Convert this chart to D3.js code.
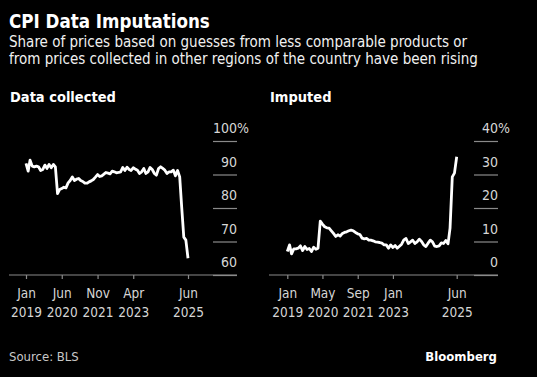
<!DOCTYPE html>
<html><head><meta charset="utf-8">
<script src="https://cdn.jsdelivr.net/npm/d3@7"></script>
<style>
html,body{margin:0;padding:0;background:#000;}
svg{display:block;}
</style></head>
<body>
<script>
// ---- data ----
const startMonth = new Date(2019, 0, 1);
const endMonth = new Date(2025, 5, 1);
const months = d3.timeMonth.range(startMonth, d3.timeMonth.offset(endMonth, 1));

const collected = [93.3, 91.0, 94.3, 92.5, 92.3, 92.5, 92.3, 91.2, 91.5, 92.8,
  91.8, 93.0, 92.0, 93.0, 92.3, 84.3, 85.5, 85.8, 86.2, 86.0,
  87.5, 88.2, 89.3, 88.2, 88.6, 88.8, 88.2, 87.9, 87.4, 87.4,
  87.8, 88.1, 88.5, 89.2, 90.0, 89.4, 89.6, 90.1, 90.6, 90.4,
  90.2, 91.0, 90.8, 90.5, 90.6, 90.8, 92.1, 91.2, 92.2, 91.5,
  91.2, 92.0, 91.6, 91.3, 90.3, 90.8, 91.8, 90.3, 90.8, 92.1,
  91.5, 90.3, 89.8, 91.8, 92.3, 91.8, 91.3, 90.3, 90.8, 90.8,
  91.3, 89.6, 91.2, 89.3, 80.5, 71.3, 70.4, 65.0];

const imputed = [7.0, 9.0, 6.3, 7.8, 7.8, 8.0, 8.7, 7.3, 8.5, 7.6,
  7.9, 7.0, 8.3, 7.7, 8.0, 16.1, 15.2, 14.4, 14.1, 14.0,
  13.2, 12.4, 11.5, 12.0, 11.6, 12.4, 12.7, 12.9, 13.2, 13.4,
  13.2, 12.7, 12.3, 12.1, 11.0, 10.8, 10.9, 10.4, 10.4, 10.2,
  9.9, 9.8, 9.7, 9.5, 9.0, 9.0, 8.0, 9.0, 8.2, 8.8,
  8.0, 8.6, 9.2, 10.5, 10.9, 9.4, 9.9, 10.4, 9.4, 9.9,
  10.7, 10.0, 9.0, 8.5, 9.5, 10.4, 9.9, 8.6, 8.5, 8.7,
  9.6, 9.4, 10.3, 9.3, 14.0, 29.3, 30.4, 35.3];

const collectedTicks = [new Date(2019,0,1), new Date(2020,5,1), new Date(2021,10,1), new Date(2023,3,1), new Date(2025,5,1)];
const imputedTicks = [new Date(2019,0,1), new Date(2020,4,1), new Date(2021,8,1), new Date(2023,0,1), new Date(2025,5,1)];
const collectedY = [60, 70, 80, 90, 100];
const imputedY = [0, 10, 20, 30, 40];

const title = "CPI Data Imputations";
const subtitle = ["Share of prices based on guesses from less comparable products or",
  "from prices collected in other regions of the country have been rising"];

// ---- layout ----
const W = 537, H = 377;
const FONT = "'DejaVu Sans Condensed', 'DejaVu Sans', sans-serif";
const svg = d3.select("body").append("svg").attr("width", W).attr("height", H)
  .style("background", "#000");

svg.append("text").attr("x", 9).attr("y", 28).text(title)
  .attr("fill", "#fff").attr("font-family", FONT).attr("font-weight", "bold").attr("font-size", 18.6);
subtitle.forEach((s, i) => svg.append("text").attr("x", 9).attr("y", 47 + i * 17.3).text(s)
  .attr("fill", "#f0f0f0").attr("font-family", FONT).attr("font-size", 15));

svg.append("text").attr("x", 9).attr("y", 361).text("Source: BLS")
  .attr("fill", "#c8c8c8").attr("font-family", FONT).attr("font-size", 13);
svg.append("text").attr("x", 497).attr("y", 361).attr("text-anchor", "end").text("Bloomberg")
  .attr("fill", "#fff").attr("font-family", FONT).attr("font-weight", "bold").attr("font-size", 13);

const monthFmt = d3.timeFormat("%b"), yearFmt = d3.timeFormat("%Y");

function panel(opts) {
  const g = svg.append("g");
  const x = d3.scaleTime().domain([startMonth, endMonth]).range(opts.xr);
  const y = d3.scaleLinear().domain(opts.yd).range([275, 141]);

  g.append("text").attr("x", opts.left).attr("y", 102).text(opts.name)
    .attr("fill", "#fff").attr("font-family", FONT).attr("font-weight", "bold").attr("font-size", 14.5);

  // y axis: short grid segments, labels above them
  const ya = g.append("g").attr("transform", `translate(${opts.right},0)`)
    .call(d3.axisLeft(y).tickValues(opts.yt).tickSize(24).tickFormat(d => d));
  ya.select(".domain").remove();
  ya.selectAll("line").attr("stroke", "#8a8a8a").attr("stroke-width", 1.2);
  ya.selectAll("text").attr("x", 0).attr("dy", -8.5).attr("text-anchor", "end")
    .attr("fill", "#d6d6d6").attr("font-family", FONT).attr("font-size", 14);
  ya.selectAll(".tick").filter(d => d === opts.yt[opts.yt.length - 1]).append("text")
    .attr("x", 0).attr("dy", -8.5).attr("text-anchor", "start").text("%")
    .attr("fill", "#d6d6d6").attr("font-family", FONT).attr("font-size", 14);

  // baseline
  g.append("line").attr("x1", opts.left - 1).attr("x2", opts.right).attr("y1", y(opts.yd[0])).attr("y2", y(opts.yd[0]))
    .attr("stroke", "#8a8a8a").attr("stroke-width", 1.2);

  // x axis
  const xa = g.append("g").attr("transform", `translate(0,${y(opts.yd[0])})`)
    .call(d3.axisBottom(x).tickValues(opts.xt).tickSize(4).tickPadding(6).tickFormat(() => ""));
  xa.select(".domain").remove();
  xa.selectAll("line").attr("stroke", "#8a8a8a").attr("stroke-width", 1.2);
  xa.selectAll(".tick text").each(function(d) {
    const t = d3.select(this).attr("fill", "#d6d6d6").attr("font-family", FONT).attr("font-size", 13.5).attr("dy", null).attr("y", 0);
    t.append("tspan").attr("x", 0).attr("y", 23).text(monthFmt(d));
    t.append("tspan").attr("x", 0).attr("y", 42).text(yearFmt(d));
  });

  const line = d3.line().x((d, i) => x(months[i])).y(d => y(d));
  g.append("path").datum(opts.values).attr("d", line).attr("fill", "none")
    .attr("stroke", "#fff").attr("stroke-width", 2.8).attr("stroke-linejoin", "round");
}

panel({name: "Data collected", left: 10, right: 237, xr: [26, 188], yd: [60, 100], yt: collectedY, xt: collectedTicks, values: collected});
panel({name: "Imputed", left: 270, right: 498, xr: [287.3, 456.7], yd: [0, 40], yt: imputedY, xt: imputedTicks, values: imputed});
</script>
</body></html>
